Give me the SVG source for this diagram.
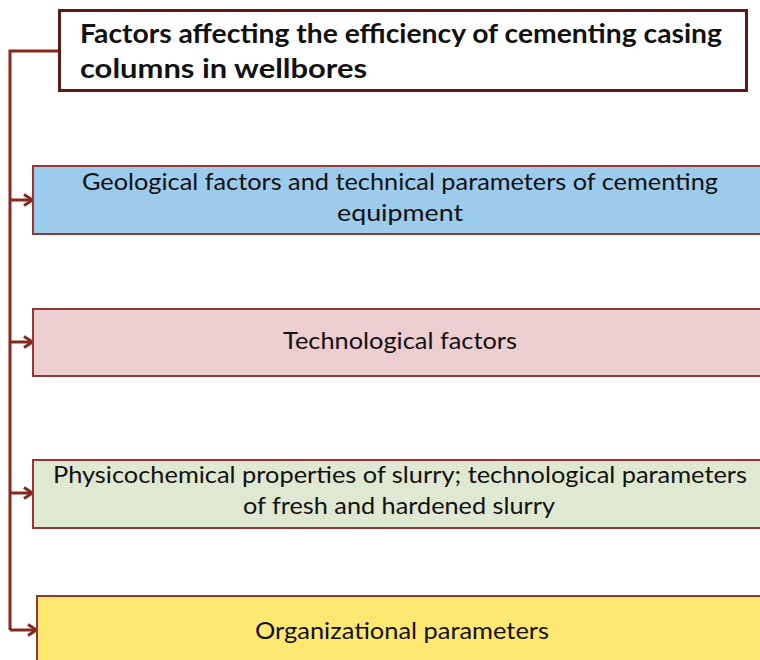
<svg xmlns="http://www.w3.org/2000/svg" width="760" height="660" viewBox="0 0 760 660">
<style>
.box{stroke:#943634;stroke-width:2}
.t{font-family:Lato,"Liberation Sans",sans-serif;font-size:24px;fill:#111;text-anchor:middle}
.title{font-family:Lato,"Liberation Sans",sans-serif;font-size:26px;font-weight:bold;fill:#111}
.c{fill:none;stroke:#86281d;stroke-width:3}
</style>
<defs>
<marker id="ah" viewBox="0 0 12 14" refX="11" refY="7" markerWidth="12" markerHeight="14" orient="auto" markerUnits="userSpaceOnUse">
<path d="M2,1.5 L10.5,7 L2,12.5" fill="none" stroke="#86281d" stroke-width="3"/>
</marker>
</defs>
<rect width="760" height="660" fill="#fff"/>
<g id="connectors">
<path class="c" d="M59,51 H10 V630"/>
<path class="c" d="M10,200 H33" marker-end="url(#ah)"/>
<path class="c" d="M10,342 H33" marker-end="url(#ah)"/>
<path class="c" d="M10,493 H33" marker-end="url(#ah)"/>
<path class="c" d="M10,630 H37" marker-end="url(#ah)"/>
</g>
<g id="title">
<rect x="59.5" y="10.5" width="687" height="80" fill="#fff" stroke="#5b1a1a" stroke-width="3"/>
<text class="title" x="80" y="43" textLength="642" lengthAdjust="spacingAndGlyphs">Factors affecting the efficiency of cementing casing</text>
<text class="title" x="80" y="78" textLength="287" lengthAdjust="spacingAndGlyphs">columns in wellbores</text>
</g>
<g id="geological">
<rect class="box" x="33" y="166" width="734" height="68" fill="#9dcbec"/>
<text class="t" x="400" y="190" textLength="636" lengthAdjust="spacingAndGlyphs">Geological factors and technical parameters of cementing</text>
<text class="t" x="400" y="221" textLength="126" lengthAdjust="spacingAndGlyphs">equipment</text>
</g>
<g id="technological">
<rect class="box" x="33" y="309" width="734" height="67" fill="#eccdd0"/>
<text class="t" x="400" y="349" textLength="234" lengthAdjust="spacingAndGlyphs">Technological factors</text>
</g>
<g id="physicochemical">
<rect class="box" x="33" y="460" width="734" height="68" fill="#dfe8d0"/>
<text class="t" x="400" y="483" textLength="694" lengthAdjust="spacingAndGlyphs">Physicochemical properties of slurry; technological parameters</text>
<text class="t" x="399" y="514" textLength="312" lengthAdjust="spacingAndGlyphs">of fresh and hardened slurry</text>
</g>
<g id="organizational">
<rect class="box" x="37" y="596" width="734" height="70" fill="#fee872"/>
<text class="t" x="402" y="639" textLength="294" lengthAdjust="spacingAndGlyphs">Organizational parameters</text>
</g>
</svg>
